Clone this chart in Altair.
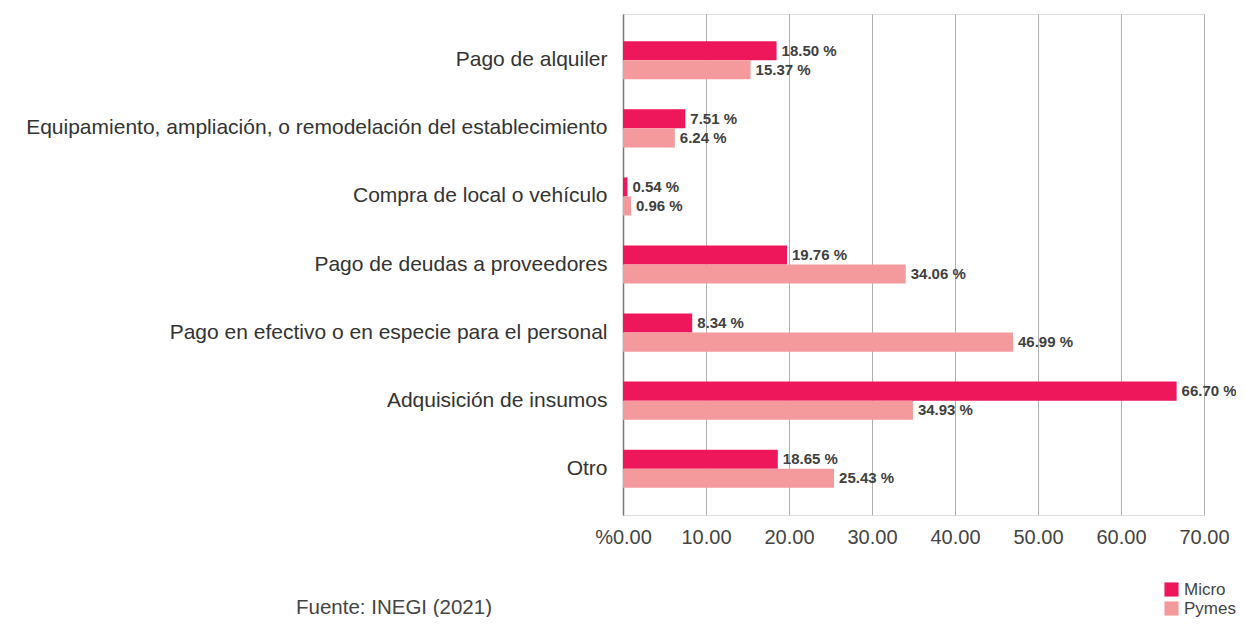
import altair as alt
import pandas as pd

categories = [
    "Pago de alquiler",
    "Equipamiento, ampliación, o remodelación del establecimiento",
    "Compra de local o vehículo",
    "Pago de deudas a proveedores",
    "Pago en efectivo o en especie para el personal",
    "Adquisición de insumos",
    "Otro",
]
micro = [18.50, 7.51, 0.54, 19.76, 8.34, 66.70, 18.65]
pymes = [15.37, 6.24, 0.96, 34.06, 46.99, 34.93, 25.43]
series = ["Micro", "Pymes"]
colors = ["#EF175C", "#F4999C"]

rows = []
for c, m, p in zip(categories, micro, pymes):
    rows.append({"cat": c, "serie": "Micro", "val": m})
    rows.append({"cat": c, "serie": "Pymes", "val": p})
df = pd.DataFrame(rows)
df["label"] = df["val"].map(lambda v: f"{v:.2f} %")

FONT = "Liberation Sans"

y = alt.Y("cat:N", sort=categories, title=None,
          scale=alt.Scale(paddingInner=0.44, paddingOuter=0.40),
          axis=alt.Axis(labelFontSize=21, labelColor="#333333", labelFont=FONT,
                        labelPadding=16, ticks=False, domain=True, domainColor="#7a7a7a",
                        domainWidth=1.5, labelLimit=700, grid=False))
x = alt.X("val:Q", title=None,
          scale=alt.Scale(domain=[0, 70], nice=False),
          axis=alt.Axis(values=[0, 10, 20, 30, 40, 50, 60, 70],
                        labelExpr="datum.value == 0 ? '%0.00' : format(datum.value, '.2f')",
                        labelFlush=False,
                        grid=True, gridColor="#b0b0b0", gridWidth=1, domain=False, ticks=False,
                        labelFontSize=20, labelColor="#444444", labelFont=FONT, labelPadding=12))
yoff = alt.YOffset("serie:N", sort=series, scale=alt.Scale(paddingInner=0, paddingOuter=0))
color = alt.Color("serie:N", sort=series,
                  scale=alt.Scale(domain=series, range=colors),
                  legend=alt.Legend(title=None, orient="none", legendX=540, legendY=567,
                                    symbolType="square", symbolSize=200, symbolStrokeWidth=0,
                                    labelFontSize=17, labelColor="#444444", labelFont=FONT,
                                    labelOffset=4, rowPadding=1, symbolOpacity=1))

bars = alt.Chart(df).mark_bar(opacity=1).encode(y=y, x=x, yOffset=yoff, color=color)
texts = alt.Chart(df).mark_text(align="left", baseline="middle", dx=5, fontSize=15,
                                fontWeight="bold", color="#404040", font=FONT).encode(
    y=alt.Y("cat:N", sort=categories),
    x=alt.X("val:Q"),
    yOffset=yoff, text="label:N")
source = alt.Chart(pd.DataFrame({"t": ["Fuente: INEGI (2021)"]})).mark_text(
    align="center", baseline="middle", fontSize=20.5, color="#444444", font=FONT).encode(
    x=alt.value(-229), y=alt.value(594), text="t:N")

chart = alt.layer(bars, texts, source).properties(
    width=581, height=501,
    autosize=alt.AutoSizeParams(type="none"),
    padding={"left": 615, "top": 6, "right": 32, "bottom": 102},
).configure_view(strokeWidth=0, stroke="transparent").configure(background="white")

chart.save("out.html", embed_options={"renderer": "svg", "actions": False})
